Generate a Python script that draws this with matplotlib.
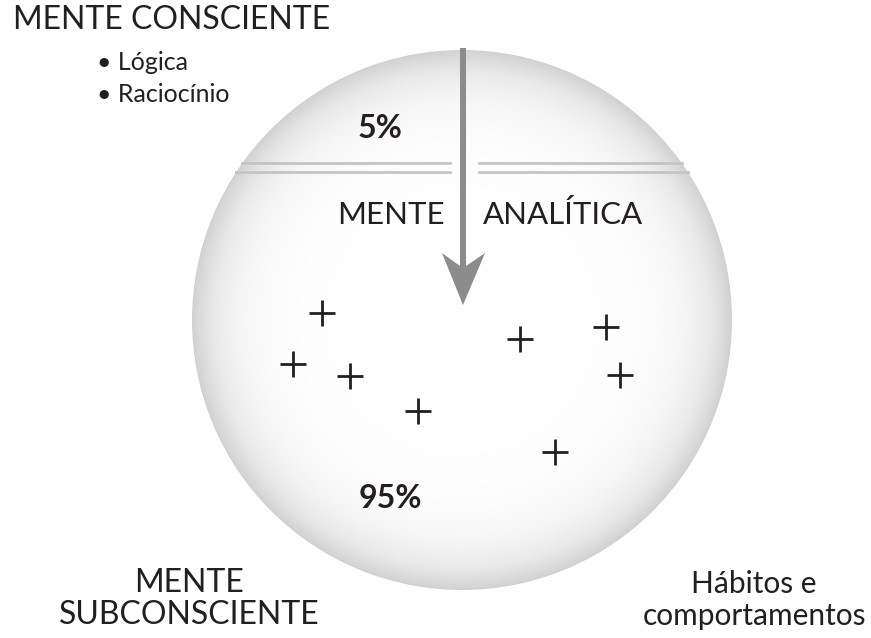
import numpy as np
import matplotlib
matplotlib.use("Agg")
import matplotlib.pyplot as plt
from matplotlib.patches import Circle, Polygon

plt.rcParams['font.family'] = ['Lato', 'DejaVu Sans']

# data
plus_x = [322, 293, 350, 418, 520, 606, 620, 555]
plus_y = [313, 364, 376, 411, 339, 327, 375, 452]
pct_labels = ["5%", "95%"]
title_top = "MENTE CONSCIENTE"
bullets = ["Lógica", "Raciocínio"]
title_bottom = "MENTE\nSUBCONSCIENTE"
note_bottom = "Hábitos e\ncomportamentos"

W, H = 871, 638
fig = plt.figure(figsize=(W / 100, H / 100), dpi=100)
ax = fig.add_axes([0, 0, 1, 1])
ax.set_xlim(0, W)
ax.set_ylim(H, 0)
ax.axis("off")

cx, cy, R = 462, 320, 270

# soft sphere shading, mostly white with a grey rim
yy, xx = np.mgrid[cy - R:cy + R:700j, cx - R:cx + R:700j]
r = np.clip(np.hypot(xx - cx, yy - cy) / R, 0, 1)
shade = 1 - 0.15 * r ** 10 - 0.03 * r ** 3
rgb = np.dstack([shade, shade, shade])
img = ax.imshow(rgb, extent=[cx - R, cx + R, cy + R, cy - R],
                interpolation="bilinear", zorder=1)
img.set_clip_path(Circle((cx, cy), R, transform=ax.transData))

# double line
for ly in [163, 172]:
    half = np.sqrt(R ** 2 - (ly - cy) ** 2)
    ax.plot([cx - half, 450], [ly, ly], color="#c4c4c4", lw=2, zorder=2)
    ax.plot([479, cx + half], [ly, ly], color="#c4c4c4", lw=2, zorder=2)

# arrow with notched head
ax_x, top, tip = 463, 48, 305
arrow = Polygon([(ax_x - 3, top), (ax_x - 3, 266), (ax_x - 21, 253), (ax_x, tip),
                 (ax_x + 22, 253), (ax_x + 3, 266), (ax_x + 3, top)],
                closed=True, color="#8c8c8c", lw=0, zorder=3)
ax.add_patch(arrow)

ax.scatter(plus_x, plus_y, marker="+", s=330, c="#231f20", linewidths=2, zorder=4)

txt = "#231f20"
ax.text(13, 20, title_top, fontsize=23, color=txt, va="center", ha="left")
ax.text(97, 62, "\u2022 " + bullets[0], fontsize=18, color=txt, va="center")
ax.text(97, 94, "\u2022 " + bullets[1], fontsize=18, color=txt, va="center")
ax.text(380, 128, pct_labels[0], fontsize=23, fontweight="bold", color=txt, ha="center", va="center")
ax.text(390, 498, pct_labels[1], fontsize=23, fontweight="bold", color=txt, ha="center", va="center")
ax.text(445, 215, "MENTE", fontsize=22.5, color=txt, ha="right", va="center")
ax.text(483, 215, "ANALÍTICA", fontsize=22.5, color=txt, ha="left", va="center")
ax.text(189, 599, title_bottom, fontsize=23, color=txt, ha="center", va="center", linespacing=1.1)
ax.text(754, 600, note_bottom, fontsize=21.5, color=txt, ha="center", va="center", linespacing=1.15)

fig.savefig("out.png", dpi=100)
